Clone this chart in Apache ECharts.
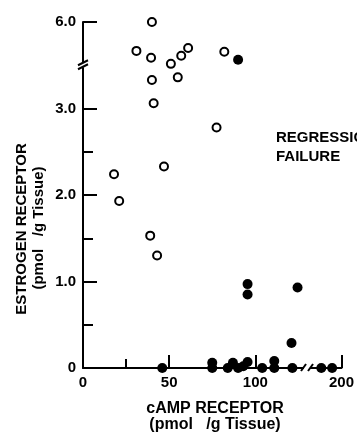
<!DOCTYPE html>
<html>
<head>
<meta charset="utf-8">
<script src="https://cdn.jsdelivr.net/npm/echarts@6/dist/echarts.min.js"></script>
<style>
  html, body { margin: 0; padding: 0; background: #fff; }
  #main { width: 357px; height: 434px; }
</style>
</head>
<body>
<div id="main"></div>
<script>
// regression (open circles)
const regressionX = [18, 21, 39, 43, 41, 47, 77.5, 40, 55, 31, 39.5, 51, 57, 61, 82, 40];
const regressionY = [2.24, 1.93, 1.53, 1.30, 3.06, 2.33, 2.78, 3.33, 3.36, 4.33, 3.93, 3.58, 4.05, 4.5, 4.28, 6.0];

// failure (filled circles)
const failureX = [46, 75, 75, 84, 87, 90, 93, 95.5, 104, 111, 111, 121.5, 159, 181, 95.5, 95.5, 124.5, 121, 90];
const failureY = [0, 0, 0.06, 0, 0.06, 0, 0.02, 0.07, 0, 0.08, 0, 0, 0, 0, 0.97, 0.85, 0.93, 0.29, 3.82];

const xTickLabels = { 0: '0', 50: '50', 100: '100', 200: '200' };
const yTickLabels = { 0: '0', 1: '1.0', 2: '2.0', 3: '3.0', 6: '6.0' };

// broken axes: above the break the scale is compressed
const X_BREAK = 130, X_K = 20 / 70;
const Y_BREAK = 3.5, Y_K = 1 / 5;
const tx = v => v <= X_BREAK ? v : X_BREAK + (v - X_BREAK) * X_K;
const ty = v => v <= Y_BREAK ? v : Y_BREAK + (v - Y_BREAK) * Y_K;
const ux = t => t <= X_BREAK ? t : X_BREAK + (t - X_BREAK) / X_K;
const uy = t => t <= Y_BREAK ? t : Y_BREAK + (t - Y_BREAK) / Y_K;

const font = '"Liberation Sans", Arial, sans-serif';
const ink = '#000';

const chart = echarts.init(document.getElementById('main'));

const option = {
  animation: false,
  grid: { left: 83, top: 22, width: 260, height: 346, containLabel: false },
  xAxis: [
    {
      type: 'value', min: 0, max: tx(200), position: 'bottom',
      splitLine: { show: false },
      axisLine: { onZero: false, lineStyle: { color: ink, width: 2 } },
      axisTick: { inside: true, length: 13, lineStyle: { color: ink, width: 2 },
        customValues: [50, 100, tx(200)] },
      axisLabel: { margin: 7, color: ink, fontSize: 15, fontWeight: 'bold', fontFamily: font,
        customValues: Object.keys(xTickLabels).map(k => tx(+k)),
        formatter: v => xTickLabels[Math.round(ux(v))] }
    },
    {
      type: 'value', min: 0, max: tx(200), position: 'bottom',
      splitLine: { show: false },
      axisLine: { show: false },
      axisTick: { inside: true, length: 9, lineStyle: { color: ink, width: 2 },
        customValues: [25, 75] },
      axisLabel: { show: false }
    }
  ],
  yAxis: [
    {
      type: 'value', min: 0, max: ty(6), position: 'left',
      splitLine: { show: false },
      axisLine: { onZero: false, lineStyle: { color: ink, width: 2 } },
      axisTick: { inside: true, length: 14, lineStyle: { color: ink, width: 2 },
        customValues: [1, 2, 3, ty(6)] },
      axisLabel: { margin: 7, color: ink, fontSize: 15, fontWeight: 'bold', fontFamily: font,
        customValues: Object.keys(yTickLabels).map(k => ty(+k)),
        formatter: v => yTickLabels[Math.round(uy(v))] }
    },
    {
      type: 'value', min: 0, max: ty(6), position: 'left',
      splitLine: { show: false },
      axisLine: { show: false },
      axisTick: { inside: true, length: 10, lineStyle: { color: ink, width: 2 },
        customValues: [0.5, 1.5, 2.5] },
      axisLabel: { show: false }
    }
  ],
  series: [
    {
      name: 'REGRESSION', type: 'scatter', symbol: 'circle', symbolSize: 8,
      itemStyle: { color: '#fff', borderColor: ink, borderWidth: 2, opacity: 1 },
      data: regressionX.map((x, i) => [tx(x), ty(regressionY[i])]),
      z: 3
    },
    {
      name: 'FAILURE', type: 'scatter', symbol: 'circle', symbolSize: 10,
      itemStyle: { color: ink, opacity: 1 },
      data: failureX.map((x, i) => [tx(x), ty(failureY[i])]),
      z: 4
    }
  ]
};

chart.setOption(option);

// break marks and free text
const yb = chart.convertToPixel({ gridIndex: 0 }, [0, Y_BREAK]);
const xb = chart.convertToPixel({ gridIndex: 0 }, [X_BREAK, 0]);
const slash = (x1, y1, x2, y2) => ({
  type: 'line', z: 10, shape: { x1, y1, x2, y2 }, style: { stroke: ink, lineWidth: 2 }
});
const txt = (text, x, y, rot, align, size) => ({
  type: 'text', z: 10, x, y, rotation: rot || 0,
  style: { text, font: 'bold ' + (size || 15) + 'px ' + font, fill: ink,
    align: align || 'center', textAlign: align || 'center',
    verticalAlign: 'middle', textVerticalAlign: 'middle' }
});

chart.setOption({
  graphic: [
    { type: 'rect', z: 9, shape: { x: yb[0] - 2, y: yb[1] - 3, width: 4, height: 5 }, style: { fill: '#fff' } },
    slash(yb[0] - 5, yb[1] - 0, yb[0] + 5, yb[1] - 5),
    slash(yb[0] - 5, yb[1] + 4, yb[0] + 5, yb[1] - 1),
    { type: 'rect', z: 9, shape: { x: xb[0] - 3, y: xb[1] - 2, width: 6, height: 4 }, style: { fill: '#fff' } },
    slash(xb[0] - 6, xb[1] + 3, xb[0] - 1, xb[1] - 4),
    slash(xb[0] + 1, xb[1] + 3, xb[0] + 6, xb[1] - 4),
    txt('REGRESSION', 276, 138, 0, 'left'),
    txt('FAILURE', 276, 157, 0, 'left'),
    txt('cAMP RECEPTOR', 215, 409, 0, 'center', 16),
    txt('(pmol   /g Tissue)', 215, 425, 0, 'center', 16),
    txt('ESTROGEN RECEPTOR', 22, 229, Math.PI / 2),
    txt('(pmol   /g Tissue)', 39, 228, Math.PI / 2)
  ]
});
</script>
</body>
</html>
